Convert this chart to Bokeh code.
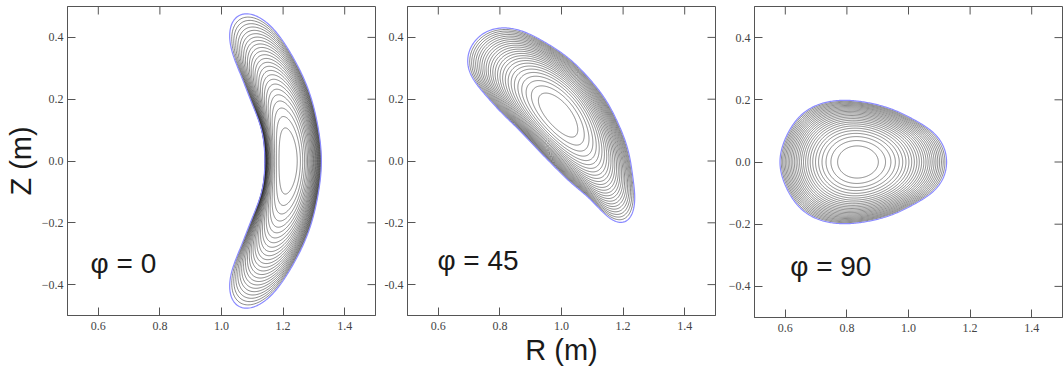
import numpy as np
from bokeh.plotting import figure
from bokeh.layouts import row
from bokeh.models import FixedTicker, Range1d, Label, ColumnDataSource, NumeralTickFormatter
from bokeh.embed import file_html
from bokeh.resources import INLINE

# ---------------- data ----------------
phi_deg = [0, 45, 90]

# phi = 0 : upper half of the last closed flux surface (mirrored in Z)
R_phi0_half = [1.325, 1.321, 1.312, 1.300, 1.282, 1.258, 1.228, 1.193, 1.155, 1.117, 1.083,
               1.055, 1.036, 1.028, 1.029, 1.038, 1.052, 1.070, 1.090, 1.108, 1.122, 1.133,
               1.140, 1.143]
Z_phi0_half = [0.000, 0.060, 0.120, 0.175, 0.230, 0.288, 0.345, 0.398, 0.440, 0.468, 0.480,
               0.475, 0.458, 0.430, 0.395, 0.345, 0.300, 0.255, 0.212, 0.170, 0.125, 0.080,
               0.040, 0.000]
axis_phi0 = (1.215, 0.0)

# phi = 45 : full last closed flux surface
R_phi45 = [1.200, 1.225, 1.236, 1.236, 1.228, 1.212, 1.190, 1.158, 1.110, 1.050, 0.987,
           0.920, 0.860, 0.802, 0.760, 0.727, 0.705, 0.694, 0.698, 0.715, 0.759, 0.824,
           0.900, 0.976, 1.030, 1.084, 1.125, 1.160, 1.180]
Z_phi45 = [-0.205, -0.185, -0.140, -0.080, -0.020, 0.050, 0.110, 0.175, 0.245, 0.310, 0.360,
           0.400, 0.425, 0.432, 0.422, 0.398, 0.365, 0.330, 0.295, 0.262, 0.205, 0.138,
           0.062, -0.019, -0.068, -0.117, -0.155, -0.185, -0.200]
axis_phi45 = (0.99, 0.15)

# phi = 90 : upper half of the last closed flux surface (mirrored in Z)
R_phi90_half = [1.124, 1.121, 1.108, 1.088, 1.062, 1.025, 0.982, 0.930, 0.874, 0.820, 0.770,
                0.720, 0.675, 0.640, 0.614, 0.596, 0.585, 0.582]
Z_phi90_half = [0.000, 0.030, 0.062, 0.088, 0.110, 0.132, 0.155, 0.176, 0.190, 0.198, 0.198,
                0.190, 0.170, 0.140, 0.105, 0.065, 0.030, 0.000]
axis_phi90 = (0.835, 0.0)

r_ticks = [0.6, 0.8, 1.0, 1.2, 1.4]
z_ticks = [-0.4, -0.2, 0.0, 0.2, 0.4]
z_labels_minus = ["\u22120.4", "\u22120.2", "0.0", "0.2", "0.4"]
z_labels_hyphen = ["-0.4", "-0.2", "0.0", "0.2", "0.4"]

R_MIN, R_MAX = 0.5, 1.5
Z_MIN, Z_MAX = -0.5, 0.5

N_SURF = 26      # number of nested flux surfaces incl. boundary
RHO_POW = 0.42   # spacing of surfaces
TICK_PX = 8      # inward tick length


def mirror(Rh, Zh):
    R = list(Rh) + list(reversed(Rh[1:-1]))
    Z = list(Zh) + [-z for z in reversed(Zh[1:-1])]
    return R, Z


def nested(Rb, Zb, ax, K=10, M=1024, nth=400):
    z = np.asarray(Rb) + 1j * np.asarray(Zb)
    zc = np.append(z, z[0])
    s = np.concatenate([[0.0], np.cumsum(np.abs(np.diff(zc)))])
    t = np.linspace(0, s[-1], M, endpoint=False)
    zr = np.interp(t, s, zc.real) + 1j * np.interp(t, s, zc.imag)
    c = np.fft.fft(zr) / M
    k = np.rint(np.fft.fftfreq(M, 1.0 / M)).astype(int)
    sel = (np.abs(k) <= K) & (k != 0)
    ks = k[sel]
    cs = c[sel]
    a = ax[0] + 1j * ax[1]
    c0 = c[0]
    th = np.linspace(0, 2 * np.pi, nth)
    E = np.exp(1j * np.outer(ks, th))
    xs, ys = [], []
    for j in range(1, N_SURF + 1):
        r = (j / N_SURF) ** RHO_POW
        zz = a + (c0 - a) * r ** 2 + (cs * r ** np.abs(ks)) @ E
        xs.append(zz.real)
        ys.append(zz.imag)
    return xs, ys


R0, Z0 = mirror(R_phi0_half, Z_phi0_half)
R90, Z90 = mirror(R_phi90_half, Z_phi90_half)

panels = [
    dict(R=R0, Z=Z0, ax=axis_phi0,
         bl=67, br=5, bt=6, fh=309, zl=z_labels_minus, lab=(0.575, -0.383), ylab="Z (m)", xlab=None),
    dict(R=R_phi45, Z=Z_phi45, ax=axis_phi45,
         bl=27, br=5, bt=6, fh=309, zl=z_labels_hyphen, lab=(0.597, -0.373), ylab=None, xlab="R (m)"),
    dict(R=R90, Z=Z90, ax=axis_phi90,
         bl=34, br=1, bt=3, fh=311, zl=z_labels_minus, lab=(0.616, -0.387), ylab=None, xlab=None),
]

FRAME_C = "#555555"
TICK_FONT = "Liberation Serif"
FW = 308

figs = []
for i, cfg in enumerate(panels):
    p = figure(frame_width=FW, frame_height=cfg["fh"],
               min_border_left=cfg["bl"], min_border_right=cfg["br"],
               min_border_top=cfg["bt"], min_border_bottom=369 - cfg["bt"] - cfg["fh"],
               x_range=Range1d(R_MIN, R_MAX), y_range=Range1d(Z_MIN, Z_MAX),
               output_backend="svg", toolbar_location=None)
    p.grid.visible = False
    p.outline_line_color = FRAME_C
    p.outline_line_width = 1
    p.background_fill_color = "white"
    p.border_fill_color = "white"

    xs, ys = nested(cfg["R"], cfg["Z"], cfg["ax"])
    src = ColumnDataSource(dict(xs=xs[:-1], ys=ys[:-1]))
    p.multi_line(xs="xs", ys="ys", source=src, line_color="#262626", line_width=0.6, line_alpha=0.9)
    p.line(xs[-1], ys[-1], line_color="#8a8aff", line_width=1.2)

    # inward ticks on the top and right frame edges (mirroring the bottom/left ticks)
    dz = (Z_MAX - Z_MIN) * TICK_PX / cfg["fh"]
    dr = (R_MAX - R_MIN) * TICK_PX / FW
    p.segment(x0=r_ticks, y0=[Z_MAX] * len(r_ticks), x1=r_ticks, y1=[Z_MAX - dz] * len(r_ticks),
              line_color=FRAME_C, line_width=1)
    p.segment(x0=[R_MAX] * len(z_ticks), y0=z_ticks, x1=[R_MAX - dr] * len(z_ticks), y1=z_ticks,
              line_color=FRAME_C, line_width=1)

    for axis in (p.xaxis[0], p.yaxis[0]):
        axis.major_tick_in = TICK_PX
        axis.major_tick_out = 0
        axis.minor_tick_line_color = None
        axis.axis_line_color = FRAME_C
        axis.major_tick_line_color = FRAME_C
        axis.major_label_text_font = TICK_FONT
        axis.major_label_text_font_size = "12px"
        axis.major_label_text_color = "#444444"
        axis.axis_label_text_font = "Liberation Sans"
        axis.axis_label_text_font_size = "29px"
        axis.axis_label_text_font_style = "normal"
        axis.axis_label_text_color = "#1a1a1a"
    p.xaxis[0].ticker = FixedTicker(ticks=r_ticks)
    p.xaxis[0].formatter = NumeralTickFormatter(format="0.0")
    p.xaxis[0].major_label_standoff = 6
    p.yaxis[0].ticker = FixedTicker(ticks=z_ticks)
    p.yaxis[0].major_label_overrides = {float(v): s for v, s in zip(z_ticks, cfg["zl"])}
    p.yaxis[0].major_label_standoff = 4
    if cfg["ylab"]:
        p.yaxis[0].axis_label = cfg["ylab"]
        p.yaxis[0].axis_label_standoff = 2
    if cfg["xlab"]:
        p.xaxis[0].axis_label = cfg["xlab"]
        p.xaxis[0].axis_label_standoff = 1

    p.add_layout(Label(x=cfg["lab"][0], y=cfg["lab"][1], text=f"\u03c6 = {phi_deg[i]}",
                       text_font="Liberation Sans", text_font_size="28px", text_color="#1a1a1a"))
    figs.append(p)

layout = row(*figs)
open("out.html", "w").write(file_html(layout, INLINE))
